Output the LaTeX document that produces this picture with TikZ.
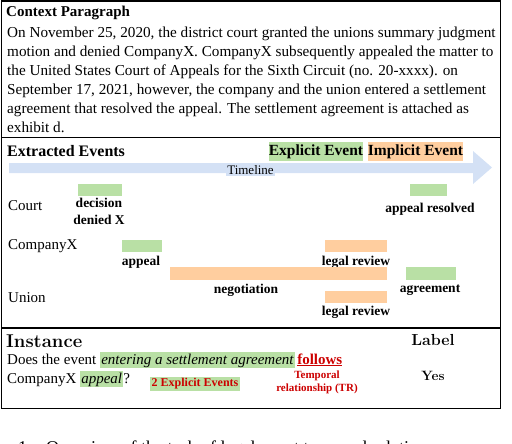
\documentclass[tikz,border=0pt]{standalone}
\usepackage{fontspec}
\newfontfamily\timesfont{Liberation Serif}
\usepackage{xcolor}
\usetikzlibrary{positioning}
\definecolor{expgreen}{HTML}{B9E0A5}
\definecolor{imporange}{HTML}{FFCE9F}
\definecolor{tlblue}{HTML}{D4E1F5}
\definecolor{trred}{HTML}{CC0000}
\tikzset{
  rowlab/.style={font=\timesfont\fontsize{15}{18}\selectfont, anchor=west, inner sep=0pt},
  evlab/.style={font=\timesfont\bfseries\fontsize{13.5}{17}\selectfont, align=center, inner sep=0pt},
  expbar/.style={fill=expgreen, inner sep=0pt, minimum height=12pt},
  impbar/.style={fill=imporange, inner sep=0pt, minimum height=12pt},
  legendbox/.style={inner sep=0pt, minimum height=19pt, font=\timesfont\bfseries\fontsize{15.5}{18}\selectfont},
}

\begin{document}
\begin{tikzpicture}[x=1pt,y=-1pt]
  \useasboundingbox (0,0) rectangle (512,444);
  % frame
  \draw[line width=1.3pt] (1.5,1) rectangle (500.5,408.5);
  \draw[line width=1.3pt] (1.5,137.5) -- (500.5,137.5);
  \draw[line width=1.3pt] (1.5,328) -- (500.5,328);
  % context paragraph
  \node[anchor=west, inner sep=0pt, font=\timesfont\bfseries\fontsize{15}{18}\selectfont] (ctxtitle) at (6,13) {Context Paragraph};
  \node[anchor=north west, inner sep=0pt, align=left, font=\timesfont\fontsize{15.2}{19}\selectfont] (ctxtext) at (7,26.8)
    {On November 25, 2020, the district court granted the unions summary judgment\\
     motion and denied CompanyX. CompanyX subsequently appealed the matter to\\
     the United States Court of Appeals for the Sixth Circuit (no. 20-xxxx). on\\
     September 17, 2021, however, the company and the union entered a settlement\\
     agreement that resolved the appeal. The settlement agreement is attached as\\
     exhibit d.};
  % timeline
  \fill[tlblue] (9,163) -- (473,163) -- (473,151) -- (492,167.5) -- (473,184) -- (473,173) -- (9,173) -- cycle;
  \node[fill=tlblue, inner sep=1.5pt, font=\timesfont\fontsize{13}{15}\selectfont] (timeline) at (250.5,170) {Timeline};
  \node[anchor=west, inner sep=0pt, font=\timesfont\bfseries\fontsize{16}{18}\selectfont] (evtitle) at (7,151) {Extracted Events};
  \node[legendbox, fill=expgreen, minimum width=94pt] (explegend) at (316,151.5) {Explicit Event};
  \node[legendbox, fill=imporange, minimum width=95pt] (implegend) at (415.5,151.5) {Implicit Event};
  % court
  \node[rowlab] (court) at (8,206) {Court};
  \node[expbar, minimum width=44pt] (decbar) at (100,190) {};
  \node[evlab] (declab) at (99,211.5) {decision\\denied X};
  \node[expbar, minimum width=37pt] (resbar) at (428.5,190) {};
  \node[evlab] (reslab) at (430,209) {appeal resolved};
  % companyx
  \node[rowlab] (compx) at (8,246) {CompanyX};
  \node[expbar, minimum width=40pt] (appbar) at (142,246) {};
  \node[evlab] (applab) at (141,262) {appeal};
  \node[impbar, minimum width=62pt] (revbara) at (356,246) {};
  \node[evlab] (revlaba) at (356,262) {legal review};
  % union
  \node[rowlab] (union) at (8,298) {Union};
  \node[impbar, minimum width=217pt, minimum height=13pt] (negbar) at (278.5,273.5) {};
  \node[evlab] (neglab) at (246,290) {negotiation};
  \node[expbar, minimum width=50pt, minimum height=13pt] (agrbar) at (431,273.5) {};
  \node[evlab] (agrlab) at (430,290) {agreement};
  \node[impbar, minimum width=62pt] (revbarb) at (356,297) {};
  \node[evlab] (revlabb) at (356,312) {legal review};
  % instance
  \node[anchor=west, inner sep=0pt, font=\bfseries\fontsize{18.5}{20}\selectfont] (insttitle) at (6,341) {Instance};
  \node[inner sep=0pt, font=\bfseries\fontsize{16}{18}\selectfont] (labtitle) at (433,340) {Label};
  \node[anchor=base west, inner sep=0pt, font=\timesfont\fontsize{15}{19}\selectfont] (quest1) at (7,364)
    {\setlength{\fboxsep}{1.2pt}Does the event \colorbox{expgreen}{\itshape entering a settlement agreement}\,\textcolor{trred}{\bfseries\underline{follows}}};
  \node[anchor=base west, inner sep=0pt, font=\timesfont\fontsize{15}{19}\selectfont] (quest2) at (7,383)
    {\setlength{\fboxsep}{1.2pt}CompanyX \colorbox{expgreen}{\itshape appeal}?};
  \node[fill=expgreen, inner sep=1.5pt, text=trred, font=\timesfont\bfseries\fontsize{12}{14}\selectfont] (nexp) at (195,384) {2 Explicit Events};
  \node[text=trred, align=center, inner sep=0pt, font=\timesfont\bfseries\fontsize{11}{13}\selectfont] (trlab) at (317,382.5) {Temporal\\relationship (TR)};
  \node[inner sep=0pt, font=\bfseries\fontsize{13.5}{15}\selectfont] (yes) at (433,376) {Yes};
  % caption, cut by the page edge
  \node[anchor=base west, inner sep=0pt, font=\timesfont\fontsize{18}{20}\selectfont] (caption) at (18,453)
    {1:\hspace{14pt}Overview of the task of legal event temporal relation};
\end{tikzpicture}
\end{document}
